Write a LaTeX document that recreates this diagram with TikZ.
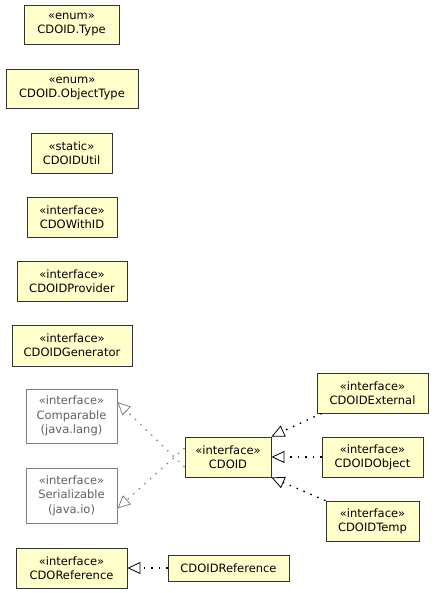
\documentclass[tikz,border=0pt]{standalone}
\usepackage{fontspec}
\setmainfont{DejaVu Sans}
\usetikzlibrary{arrows.meta}
\definecolor{boxfill}{HTML}{FFFFCC}
\definecolor{extgray}{HTML}{808080}
\definecolor{exttext}{HTML}{606060}
\begin{document}
\begin{tikzpicture}[x=1pt,y=-1pt,
  umlbox/.style={draw=black!80,line width=0.9pt,fill=boxfill,inner sep=0pt,align=center,
    font=\fontsize{11.5}{14}\selectfont},
  extbox/.style={draw=extgray,line width=0.8pt,fill=white,inner sep=0pt,align=center,
    text=exttext,font=\fontsize{11.5}{14.5}\selectfont},
  tip/.style={-{Triangle[open,length=13pt,width=12pt,line width=0.8pt,fill=white]}},
  realize/.style={tip,line width=1.4pt,dash pattern=on 1.5pt off 6pt},
  extrealize/.style={tip,extgray,line width=1.2pt,dash pattern=on 1.5pt off 6pt}
]
\useasboundingbox (0,0) rectangle (435,593);
\newcommand{\umlnode}[7]{% name, style, left, top, right, bottom, text
  \node[#2,minimum width={#5-#3},minimum height={#6-#4}] (#1) at ({(#3+#5)/2},{(#4+#6)/2}) {#7};}
\umlnode{type}{umlbox}{24}{5}{119}{44}{«enum»\\CDOID.Type}
\umlnode{objtype}{umlbox}{6}{69}{138}{108}{«enum»\\CDOID.ObjectType}
\umlnode{util}{umlbox}{31}{133}{112}{173}{«static»\\CDOIDUtil}
\umlnode{withid}{umlbox}{27}{197}{117}{237}{«interface»\\CDOWithID}
\umlnode{provider}{umlbox}{17}{261}{127}{301}{«interface»\\CDOIDProvider}
\umlnode{generator}{umlbox}{12}{325}{132}{366}{«interface»\\CDOIDGenerator}
\umlnode{comparable}{extbox}{26}{389}{117}{443}{«interface»\\Comparable\\(java.lang)}
\umlnode{serializable}{extbox}{26}{468}{117}{523}{«interface»\\Serializable\\(java.io)}
\umlnode{cdoid}{umlbox}{185}{437}{271}{477}{«interface»\\CDOID}
\umlnode{external}{umlbox}{317}{373}{428}{413}{«interface»\\CDOIDExternal}
\umlnode{object}{umlbox}{322}{437}{423}{477}{«interface»\\CDOIDObject}
\umlnode{temp}{umlbox}{326}{501}{419}{541}{«interface»\\CDOIDTemp}
\umlnode{reference}{umlbox}{16}{548}{127}{588}{«interface»\\CDOReference}
\umlnode{idref}{umlbox}{168}{555}{289}{581}{CDOIDReference}

\draw[extrealize] ([yshift=-10pt]cdoid.west) -- ([yshift=14pt]comparable.east);
\draw[extrealize] ([yshift=9pt]cdoid.west) -- ([yshift=-13pt]serializable.east);
\draw[realize] ([xshift=5pt]external.south west) -- (cdoid.north east);
\draw[realize] (object.west) -- (cdoid.east);
\draw[realize] (temp.north west) -- (cdoid.south east);
\draw[realize] (idref.west) -- (reference.east |- idref.west);
\end{tikzpicture}
\end{document}
